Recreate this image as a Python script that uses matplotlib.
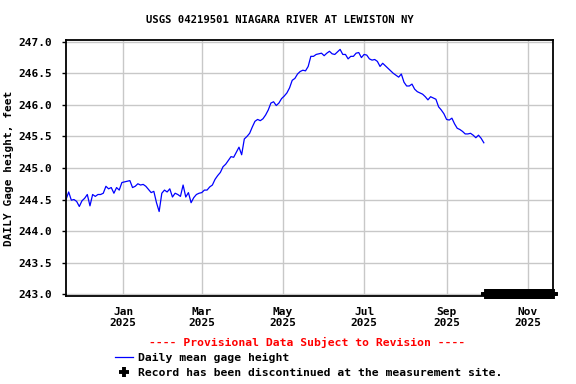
import matplotlib
matplotlib.use("Agg")
import matplotlib.pyplot as plt
import matplotlib.dates as mdates
import pandas as pd

# daily mean gage height, read every 2nd day off the USGS plot
start_date = "2024-11-19"
gage = [
    244.50, 244.62, 244.49, 244.50, 244.47, 244.39, 244.48, 244.52, 244.58, 244.40,
    244.58, 244.55, 244.58, 244.58, 244.60, 244.71, 244.67, 244.69, 244.60, 244.69,
    244.65, 244.77, 244.78, 244.79, 244.80, 244.69, 244.71, 244.75, 244.73, 244.74,
    244.71, 244.66, 244.61, 244.63, 244.45, 244.31, 244.60, 244.65, 244.62, 244.67,
    244.54, 244.60, 244.58, 244.55, 244.73, 244.54, 244.61, 244.45, 244.53, 244.58,
    244.60, 244.61, 244.65, 244.65, 244.70, 244.73, 244.82, 244.88, 244.93, 245.02,
    245.06, 245.12, 245.18, 245.17, 245.25, 245.33, 245.21, 245.46, 245.50, 245.55,
    245.65, 245.74, 245.77, 245.75, 245.78, 245.84, 245.92, 246.03, 246.05, 245.99,
    246.03, 246.10, 246.14, 246.19, 246.27, 246.39, 246.42, 246.49, 246.53, 246.55,
    246.54, 246.61, 246.77, 246.77, 246.80, 246.81, 246.82, 246.78, 246.82, 246.85,
    246.81, 246.80, 246.84, 246.88, 246.80, 246.80, 246.73, 246.77, 246.77, 246.82,
    246.83, 246.75, 246.80, 246.79, 246.73, 246.71, 246.72, 246.69, 246.61, 246.66,
    246.62, 246.58, 246.54, 246.50, 246.47, 246.44, 246.49, 246.36, 246.30, 246.30,
    246.33, 246.25, 246.21, 246.19, 246.17, 246.13, 246.08, 246.13, 246.11, 246.09,
    245.97, 245.92, 245.86, 245.77, 245.76, 245.79, 245.70, 245.63, 245.61, 245.58,
    245.54, 245.54, 245.55, 245.52, 245.48, 245.52, 245.47, 245.40,
]
dates = pd.date_range(start_date, periods=len(gage), freq="2D")

# period after the record was discontinued
disc_dates = pd.date_range("2025-10-01", "2025-11-20", freq="D")
disc_level = [243.0] * len(disc_dates)

yticks = [243.0, 243.5, 244.0, 244.5, 245.0, 245.5, 246.0, 246.5, 247.0]

mono = {"family": "DejaVu Sans Mono", "weight": "bold"}

fig = plt.figure(figsize=(5.76, 3.84), dpi=100)
ax = fig.add_axes([0.1146, 0.229, 0.8455, 0.667])

line, = ax.plot(dates, gage, color="#0000ff", lw=0.9)
plus, = ax.plot(disc_dates, disc_level, "+", color="black", ms=7, mew=2.8,
                clip_on=False, zorder=5)

ax.set_xlim(pd.Timestamp("2024-11-19"), pd.Timestamp("2025-11-20"))
ax.set_ylim(242.97, 247.03)
ax.set_yticks(yticks)
ax.yaxis.set_major_formatter(plt.FormatStrFormatter("%.1f"))
ax.xaxis.set_major_locator(mdates.MonthLocator(bymonth=[1, 3, 5, 7, 9, 11]))
ax.xaxis.set_major_formatter(mdates.DateFormatter("%b\n%Y"))

ax.grid(True, color="#c8c8c8", lw=1)
ax.set_axisbelow(True)
for s in ax.spines.values():
    s.set_linewidth(1.3)
ax.tick_params(axis="y", length=3, width=1, pad=7)
ax.tick_params(axis="x", length=0, pad=8)
for lab in ax.get_xticklabels():
    lab.set_fontproperties(mono)
    lab.set_fontsize(8)
    lab.set_linespacing(1.15)
for lab in ax.get_yticklabels():
    lab.set_fontproperties(mono)
    lab.set_fontsize(8)

ax.set_ylabel("DAILY Gage height, feet", fontsize=8, labelpad=3, **mono)

fig.text(0.486, 0.948, "USGS 04219501 NIAGARA RIVER AT LEWISTON NY",
         ha="center", va="center", fontsize=7.6, **mono)
fig.text(0.533, 0.107, "---- Provisional Data Subject to Revision ----",
         ha="center", va="center", color="#ff0000", fontsize=8.2, **mono)

leg = fig.legend([line, plus],
                 ["Daily mean gage height",
                  "Record has been discontinued at the measurement site."],
                 loc="upper left", bbox_to_anchor=(0.199, 0.080),
                 frameon=False, handlelength=1.6, handletextpad=0.45,
                 labelspacing=0.45, borderpad=0, borderaxespad=0,
                 prop={"family": "DejaVu Sans Mono", "weight": "bold", "size": 8.2})

fig.savefig("out.png", dpi=100)
